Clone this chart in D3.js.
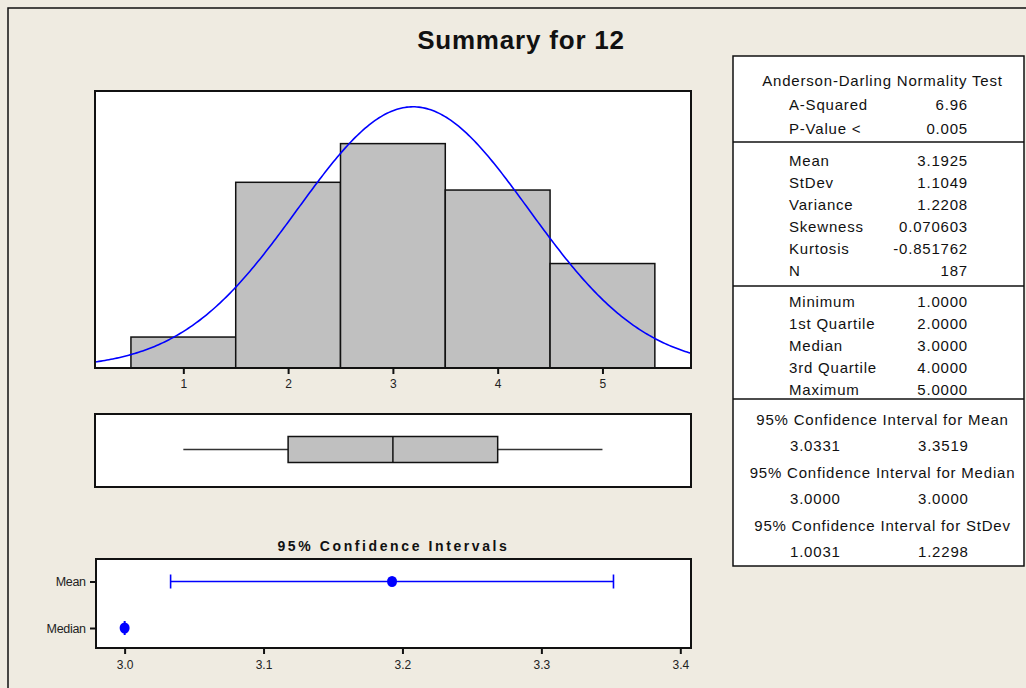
<!DOCTYPE html>
<html>
<head>
<meta charset="utf-8">
<script src="https://cdn.jsdelivr.net/npm/d3@7/dist/d3.min.js"></script>
<style>
  body { margin: 0; background: #efebe1; }
  svg { display: block; font-family: "Liberation Sans", Arial, sans-serif; }
</style>
</head>
<body>
<div id="chart"></div>
<script>
const title = "Summary for 12"

// histogram data
const bins = [1, 2, 3, 4, 5]
const counts = [8, 48, 58, 46, 27]
const histTicks = [1, 2, 3, 4, 5]

// descriptive stats
const mean = 3.1925
const stdev = 1.1049
const n = 187
const quartiles = [1, 2, 3, 4, 5] // min, q1, median, q3, max

// confidence intervals
const ciCats = ["Mean", "Median"]
const ciCenter = [3.1925, 3.0]
const ciLow = [3.0331, 3.0000]
const ciHigh = [3.3519, 3.0000]
const ciTicks = [3.0, 3.1, 3.2, 3.3, 3.4]

// table text
const adLabels = ["A-Squared", "P-Value <"]
const adValues = ["6.96", "0.005"]
const momentLabels = ["Mean", "StDev", "Variance", "Skewness", "Kurtosis", "N"]
const momentValues = ["3.1925", "1.1049", "1.2208", "0.070603", "-0.851762", "187"]
const quantLabels = ["Minimum", "1st Quartile", "Median", "3rd Quartile", "Maximum"]
const quantValues = ["1.0000", "2.0000", "3.0000", "4.0000", "5.0000"]
const ciTitles = ["95% Confidence Interval for Mean", "95% Confidence Interval for Median", "95% Confidence Interval for StDev"]
const ciTabLow = ["3.0331", "3.0000", "1.0031"]
const ciTabHigh = ["3.3519", "3.0000", "1.2298"]

const width = 1026, height = 688

const svg = d3.select("#chart").append("svg").attr("width", width).attr("height", height)

svg.append("rect").attr("width", width).attr("height", height).attr("fill", "#efebe1")
// outer frame (runs off the right / bottom edge)
svg.append("rect")
  .attr("x", 8).attr("y", 8).attr("width", 1100).attr("height", 800)
  .attr("fill", "none").attr("stroke", "#111").attr("stroke-width", 1.5)

svg.append("text")
  .attr("x", 521).attr("y", 49)
  .attr("text-anchor", "middle")
  .attr("font-size", 26).attr("font-weight", "bold")
  .attr("letter-spacing", 0.8)
  .attr("fill", "#111")
  .text(title)

// ============================
// Histogram + normal fit
// ============================
const hist = {left: 95, right: 691, top: 91, bottom: 368}

const xscale = d3.scaleLinear()
  .domain([0.157, 5.845])
  .range([hist.left, hist.right])

const yscale = d3.scaleLinear()
  .domain([0, 71.6])
  .range([hist.bottom, hist.top])

svg.append("rect")
  .attr("x", hist.left).attr("y", hist.top)
  .attr("width", hist.right - hist.left).attr("height", hist.bottom - hist.top)
  .attr("fill", "white")

svg.append("g")
  .selectAll("rect")
  .data(bins)
  .join("rect")
  .attr("x", d => xscale(d - 0.5))
  .attr("width", d => xscale(d + 0.5) - xscale(d - 0.5))
  .attr("y", (d, i) => yscale(counts[i]))
  .attr("height", (d, i) => yscale(0) - yscale(counts[i]))
  .attr("fill", "#c0c0c0")
  .attr("stroke", "#111")
  .attr("stroke-width", 1.5)

// fitted normal curve from mean / stdev (counts per unit bin)
const pdf = x => n / (stdev * Math.sqrt(2 * Math.PI)) * Math.exp(-Math.pow(x - mean, 2) / (2 * stdev * stdev))
const xs = d3.range(0, 301).map(i => xscale.domain()[0] + i / 300 * (xscale.domain()[1] - xscale.domain()[0]))

svg.append("path")
  .datum(xs)
  .attr("fill", "none")
  .attr("stroke", "#0000ff")
  .attr("stroke-width", 1.6)
  .attr("d", d3.line().x(d => xscale(d)).y(d => yscale(pdf(d))))

svg.append("rect")
  .attr("x", hist.left).attr("y", hist.top)
  .attr("width", hist.right - hist.left).attr("height", hist.bottom - hist.top)
  .attr("fill", "none").attr("stroke", "#111").attr("stroke-width", 2)

const xAxis = g => g
  .attr("transform", `translate(0, ${hist.bottom})`)
  .call(d3.axisBottom(xscale).tickValues(histTicks).tickFormat(d3.format("d")).tickSize(6).tickSizeOuter(0))
  .call(g => g.select(".domain").remove())
  .call(g => g.selectAll(".tick line").attr("stroke", "#111").attr("stroke-width", 2))
  .call(g => g.selectAll(".tick text").attr("font-size", 12).attr("fill", "#222").attr("dy", "0.9em")
    .attr("font-family", "Liberation Sans, Arial, sans-serif"))

svg.append("g").call(xAxis)

// ============================
// Boxplot
// ============================
const box = {top: 414, bottom: 487, y1: 436.5, y2: 462.5}
const boxMid = (box.y1 + box.y2) / 2

svg.append("rect")
  .attr("x", hist.left).attr("y", box.top)
  .attr("width", hist.right - hist.left).attr("height", box.bottom - box.top)
  .attr("fill", "white").attr("stroke", "#111").attr("stroke-width", 2)

svg.append("g")
  .selectAll("line")
  .data([[quartiles[0], quartiles[1]], [quartiles[3], quartiles[4]]])
  .join("line")
  .attr("x1", d => xscale(d[0])).attr("x2", d => xscale(d[1]))
  .attr("y1", boxMid).attr("y2", boxMid)
  .attr("stroke", "#333").attr("stroke-width", 1.5)

svg.append("rect")
  .attr("x", xscale(quartiles[1])).attr("y", box.y1)
  .attr("width", xscale(quartiles[3]) - xscale(quartiles[1]))
  .attr("height", box.y2 - box.y1)
  .attr("fill", "#c0c0c0").attr("stroke", "#111").attr("stroke-width", 1.5)

svg.append("line")
  .attr("x1", xscale(quartiles[2])).attr("x2", xscale(quartiles[2]))
  .attr("y1", box.y1).attr("y2", box.y2)
  .attr("stroke", "#111").attr("stroke-width", 1.5)

// ============================
// 95% Confidence intervals
// ============================
const ci = {left: 96, right: 691, top: 559, bottom: 648}

const ciX = d3.scaleLinear()
  .domain([2.9794, 3.4077])
  .range([ci.left, ci.right])

const ciY = d3.scalePoint()
  .domain(ciCats)
  .range([581.5, 628])

svg.append("text")
  .attr("x", (ci.left + ci.right) / 2).attr("y", 551)
  .attr("text-anchor", "middle")
  .attr("font-size", 14).attr("font-weight", "bold")
  .attr("letter-spacing", 2.6)
  .attr("fill", "#111")
  .text("95% Confidence Intervals")

svg.append("rect")
  .attr("x", ci.left).attr("y", ci.top)
  .attr("width", ci.right - ci.left).attr("height", ci.bottom - ci.top)
  .attr("fill", "white").attr("stroke", "#111").attr("stroke-width", 2)

const ciG = svg.append("g").attr("stroke", "#0000ff").attr("fill", "#0000ff")

ciG.selectAll(".bar")
  .data(ciCats)
  .join("line")
  .attr("class", "bar")
  .attr("x1", (d, i) => ciX(ciLow[i])).attr("x2", (d, i) => ciX(ciHigh[i]))
  .attr("y1", d => ciY(d)).attr("y2", d => ciY(d))
  .attr("stroke-width", 1.6)

ciG.selectAll(".cap")
  .data(ciCats.flatMap((d, i) => [{c: d, v: ciLow[i]}, {c: d, v: ciHigh[i]}]))
  .join("line")
  .attr("class", "cap")
  .attr("x1", d => ciX(d.v)).attr("x2", d => ciX(d.v))
  .attr("y1", d => ciY(d.c) - 7).attr("y2", d => ciY(d.c) + 7)
  .attr("stroke-width", 1.6)

ciG.selectAll("ellipse")
  .data(ciCats)
  .join("ellipse")
  .attr("cx", (d, i) => ciX(ciCenter[i]))
  .attr("cy", d => ciY(d))
  .attr("rx", 5).attr("ry", 5.5)
  .attr("stroke", "none")

svg.append("g")
  .attr("transform", `translate(0, ${ci.bottom})`)
  .call(d3.axisBottom(ciX).tickValues(ciTicks).tickFormat(d3.format(".1f")).tickSize(6).tickSizeOuter(0))
  .call(g => g.select(".domain").remove())
  .call(g => g.selectAll(".tick line").attr("stroke", "#111").attr("stroke-width", 2))
  .call(g => g.selectAll(".tick text").attr("font-size", 12).attr("fill", "#222").attr("dy", "1em")
    .attr("font-family", "Liberation Sans, Arial, sans-serif"))

svg.append("g")
  .attr("transform", `translate(${ci.left}, 0)`)
  .call(d3.axisLeft(ciY).tickSize(6).tickSizeOuter(0))
  .call(g => g.select(".domain").remove())
  .call(g => g.selectAll(".tick line").attr("stroke", "#111").attr("stroke-width", 2))
  .call(g => g.selectAll(".tick text").attr("font-size", 12.5).attr("fill", "#222").attr("dx", "-0.1em")
    .attr("letter-spacing", -0.3)
    .attr("font-family", "Liberation Sans, Arial, sans-serif"))

// ============================
// Summary table
// ============================
const tab = {left: 733, right: 1024, top: 56, bottom: 566}
const tabMid = (tab.left + tab.right) / 2 + 4
const labelX = 789, valueX = 968, lowX = 790, highX = 918

const table = svg.append("g")
  .attr("font-size", 15)
  .attr("letter-spacing", 0.8)
  .attr("fill", "#111")

table.append("rect")
  .attr("x", tab.left).attr("y", tab.top)
  .attr("width", tab.right - tab.left).attr("height", tab.bottom - tab.top)
  .attr("fill", "white").attr("stroke", "#111").attr("stroke-width", 1.5)

table.selectAll(".sep")
  .data([142, 286, 399])
  .join("line")
  .attr("class", "sep")
  .attr("x1", tab.left).attr("x2", tab.right)
  .attr("y1", d => d).attr("y2", d => d)
  .attr("stroke", "#111").attr("stroke-width", 1.5)

const addText = (x, y, txt, anchor) => table.append("text")
  .attr("x", x).attr("y", y).attr("dy", "0.35em")
  .attr("text-anchor", anchor)
  .text(txt)

addText(tabMid, 80.5, "Anderson-Darling Normality Test", "middle")
adLabels.forEach((d, i) => {
  addText(labelX, 105 + i * 24, d, "start")
  addText(valueX, 105 + i * 24, adValues[i], "end")
})
momentLabels.forEach((d, i) => {
  addText(labelX, 160.5 + i * 22, d, "start")
  addText(valueX, 160.5 + i * 22, momentValues[i], "end")
})
quantLabels.forEach((d, i) => {
  addText(labelX, 302 + i * 22, d, "start")
  addText(valueX, 302 + i * 22, quantValues[i], "end")
})
ciTitles.forEach((d, i) => {
  addText(tabMid, 419.5 + i * 53.3, d, "middle")
  addText(lowX, 445.5 + i * 53.3, ciTabLow[i], "start")
  addText(highX, 445.5 + i * 53.3, ciTabHigh[i], "start")
})
</script>
</body>
</html>
